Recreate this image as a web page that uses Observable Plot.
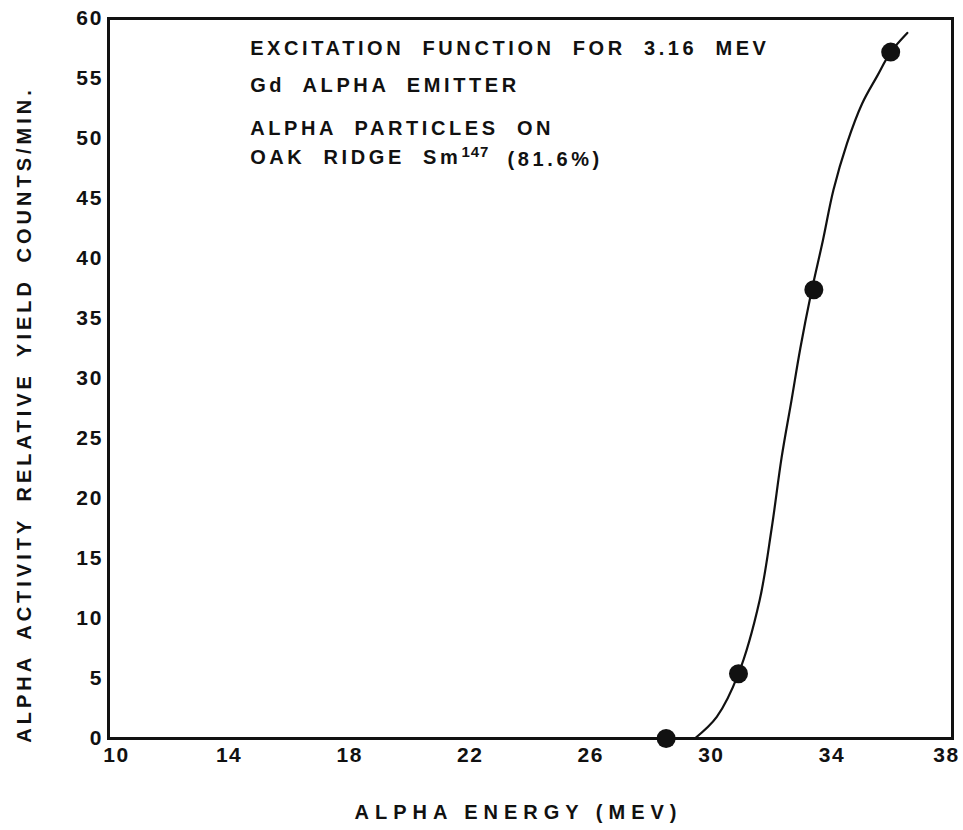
<!DOCTYPE html>
<html>
<head>
<meta charset="utf-8">
<script src="https://cdn.jsdelivr.net/npm/d3@7"></script>
<script src="https://cdn.jsdelivr.net/npm/@observablehq/plot@0.6"></script>
<style>
  html, body { margin: 0; padding: 0; background: #fff; }
  #chart svg { display: block; }
</style>
</head>
<body>
<div id="chart"></div>
<script>
// Measured points
const energy = [28.5, 30.9, 33.4, 35.95];
const yieldCounts = [0, 5.4, 37.4, 57.2];

// Hand-drawn fitted curve
const curveX = [29.45, 30.18, 30.9, 31.6, 32.0, 32.33, 32.66, 32.95, 33.3, 33.7, 34.05, 34.5, 35.0, 35.5, 35.95, 36.5];
const curveY = [0, 1.8, 5.4, 11.5, 17.5, 23.4, 28.2, 32.5, 37.0, 41.5, 45.7, 49.6, 52.9, 55.2, 57.2, 58.8];

const xTicks = [10, 14, 18, 22, 26, 30, 34, 38];
const yTicks = [0, 5, 10, 15, 20, 25, 30, 35, 40, 45, 50, 55, 60];

const noteLines = [
  "EXCITATION FUNCTION FOR 3.16 MEV",
  "Gd ALPHA EMITTER",
  "ALPHA PARTICLES ON",
  "OAK RIDGE Sm147 (81.6%)"
];
const noteX = [14.7, 14.7, 14.7, 14.7];
const noteY = [57.5, 54.4, 50.8, 48.4];
const superscript = "147";

const xLabel = "ALPHA ENERGY (MEV)";
const yLabel = "ALPHA ACTIVITY RELATIVE YIELD COUNTS/MIN.";

const points = energy.map((x, i) => ({x, y: yieldCounts[i]}));
const curve = curveX.map((x, i) => ({x, y: curveY[i]}));
const notes = noteLines.map((t, i) => ({t, x: noteX[i], y: noteY[i]}));

const chart = Plot.plot({
  width: 963,
  height: 830,
  marginLeft: 108,
  marginRight: 11,
  marginTop: 18,
  marginBottom: 92,
  style: {fontFamily: "'Liberation Sans', Arial, sans-serif", fontWeight: "bold", color: "#111", background: "#fff"},
  x: {domain: [10, 38]},
  y: {domain: [0, 60]},
  marks: [
    Plot.axisX({ticks: xTicks, tickSize: 0, tickPadding: 9, label: xLabel, labelAnchor: "center", labelArrow: false, labelOffset: 80}),
    Plot.axisY({ticks: yTicks, tickSize: 0, tickPadding: 5, label: yLabel, labelAnchor: "center", labelArrow: false, labelOffset: 92}),
    Plot.frame({stroke: "#111", strokeWidth: 3}),
    Plot.line(curve, {x: "x", y: "y", curve: "catmull-rom", stroke: "#111", strokeWidth: 2.2}),
    Plot.dot(points, {x: "x", y: "y", r: 9.5, fill: "#111", stroke: "none"}),
    Plot.text(notes, {x: "x", y: "y", text: "t", textAnchor: "start", fontSize: 20, fontWeight: "bold", fill: "#111"})
  ]
});

const svg = d3.select(chart);
svg.selectAll("[aria-label='x-axis tick label'] text").style("font-size", "21px").style("letter-spacing", "1.5px");
svg.selectAll("[aria-label='y-axis tick label'] text").style("font-size", "21px").style("letter-spacing", "2px");
svg.selectAll("[aria-label='x-axis label'] text").style("font-size", "20px").style("letter-spacing", "6px");
svg.selectAll("[aria-label='y-axis label'] text").style("font-size", "20px").style("letter-spacing", "4px").style("word-spacing", "6px");
svg.selectAll("[aria-label='text'] text").style("letter-spacing", "3.6px").style("word-spacing", "9px");
// first and last x tick labels sit slightly inside the corners, as in the original
const xt = svg.selectAll("[aria-label='x-axis tick label'] text").nodes();
if (xt.length) {
  d3.select(xt[0]).attr("dx", "8");
  d3.select(xt[xt.length - 1]).attr("dx", "-6");
}
// superscript for Sm-147
svg.selectAll("[aria-label='text'] text").each(function() {
  const el = d3.select(this);
  const s = el.text();
  const k = s.indexOf("Sm" + superscript);
  if (k < 0) return;
  const before = s.slice(0, k + 2), after = s.slice(k + 2 + superscript.length);
  el.text(null);
  el.append("tspan").text(before);
  el.append("tspan").attr("dy", "-0.45em").style("font-size", "15px").style("letter-spacing", "1px").text(superscript);
  el.append("tspan").attr("dy", "0.45em").text(after);
});
const shift = (sel, dx, dy) => { const t = sel.attr("transform"); sel.attr("transform", `translate(${dx},${dy})` + (t ? " " + t : "")); };
shift(svg.select("[aria-label='y-axis label']"), 0, 36);
shift(svg.select("[aria-label='x-axis label']"), -12, 0);
document.getElementById("chart").append(chart);
</script>
</body>
</html>
